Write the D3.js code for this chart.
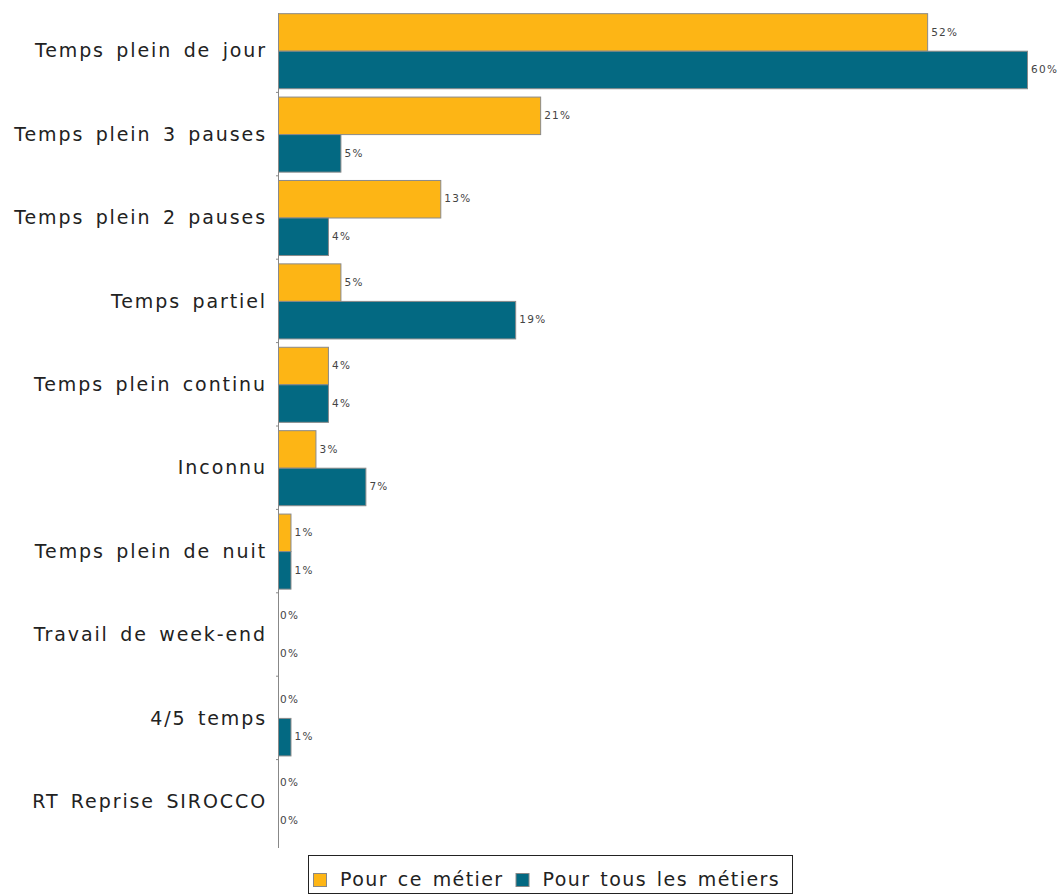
<!DOCTYPE html>
<html>
<head>
<meta charset="utf-8">
<script src="https://cdn.jsdelivr.net/npm/d3@7"></script>
<style>
  body { margin: 0; background: #fff; }
  svg { display: block; }
</style>
</head>
<body>
<svg id="canvas" width="1064" height="894"></svg>
<script>
let categories = ['Temps plein de jour', 'Temps plein 3 pauses', 'Temps plein 2 pauses', 'Temps partiel',
  'Temps plein continu', 'Inconnu', 'Temps plein de nuit', 'Travail de week-end', '4/5 temps', 'RT Reprise SIROCCO']
let seriesNames = ['Pour ce métier', 'Pour tous les métiers']
let metier = [52, 21, 13, 5, 4, 3, 1, 0, 0, 0]
let tous = [60, 5, 4, 19, 4, 7, 1, 0, 1, 0]
let colors = ['#fdb515', '#036982']

let canvas = d3.select('#canvas')

let x = d3.scaleLinear().domain([0, 60]).range([278, 1027])
let y = d3.scaleBand().domain(categories).range([9, 843]).paddingInner(0.1).paddingOuter(0.05)
let sub = d3.scaleBand().domain([0, 1]).range([0, y.bandwidth()])

// axis line and small ticks between categories
canvas.append('line')
      .attr('x1', 278.5).attr('x2', 278.5)
      .attr('y1', 13).attr('y2', 848)
      .attr('stroke', '#888')

canvas.selectAll('.sep')
      .data(categories.slice(1))
      .enter()
      .append('line')
      .attr('x1', 276).attr('x2', 278)
      .attr('y1', (d) => y(d) - y.step() * y.paddingInner() / 2)
      .attr('y2', (d) => y(d) - y.step() * y.paddingInner() / 2)
      .attr('stroke', '#888')

canvas.selectAll('.cat')
      .data(categories)
      .enter()
      .append('text')
      .attr('x', 267)
      .attr('y', (d) => y(d) + y.bandwidth() / 2)
      .attr('dy', '0.35em')
      .attr('text-anchor', 'end')
      .attr('font-family', 'DejaVu Sans')
      .attr('font-size', 19)
      .attr('letter-spacing', 1.9)
      .attr('word-spacing', 3.5)
      .attr('fill', '#222')
      .text((d) => d)

let rows = []
categories.forEach((c, i) => {
  rows.push({ cat: c, s: 0, v: metier[i] })
  rows.push({ cat: c, s: 1, v: tous[i] })
})

canvas.selectAll('.bar')
      .data(rows.filter((d) => d.v > 0))
      .enter()
      .append('rect')
      .attr('x', x(0) + 0.5)
      .attr('y', (d) => y(d.cat) + sub(d.s) + 0.5)
      .attr('width', (d) => x(d.v) - x(0))
      .attr('height', sub.bandwidth())
      .attr('fill', (d) => colors[d.s])
      .attr('stroke', '#8a8a8a')

canvas.selectAll('.lbl')
      .data(rows)
      .enter()
      .append('text')
      .attr('x', (d) => x(d.v) + (d.v > 0 ? 4 : 2))
      .attr('y', (d) => y(d.cat) + sub(d.s) + sub.bandwidth() / 2)
      .attr('dy', '0.35em')
      .attr('font-family', 'DejaVu Sans')
      .attr('font-size', 10.5)
      .attr('letter-spacing', 1.3)
      .attr('fill', '#444')
      .text((d) => d.v + '%')

// legend
let legend = canvas.append('g')
legend.append('rect')
      .attr('x', 308.5).attr('y', 855.5)
      .attr('width', 484).attr('height', 38)
      .attr('fill', '#fff').attr('stroke', '#222')
let lx = 313
seriesNames.forEach((n, i) => {
  legend.append('rect')
        .attr('x', lx + 0.5).attr('y', 873.5)
        .attr('width', 13).attr('height', 13)
        .attr('fill', colors[i]).attr('stroke', '#888')
  let t = legend.append('text')
        .attr('x', lx + 27).attr('y', 886)
        .attr('font-family', 'DejaVu Sans')
        .attr('font-size', 19)
        .attr('letter-spacing', 1.4)
        .attr('word-spacing', 2.5)
        .attr('fill', '#222')
        .text(n)
  lx = lx + 27 + t.node().getComputedTextLength() + 12
})
</script>
</body>
</html>
